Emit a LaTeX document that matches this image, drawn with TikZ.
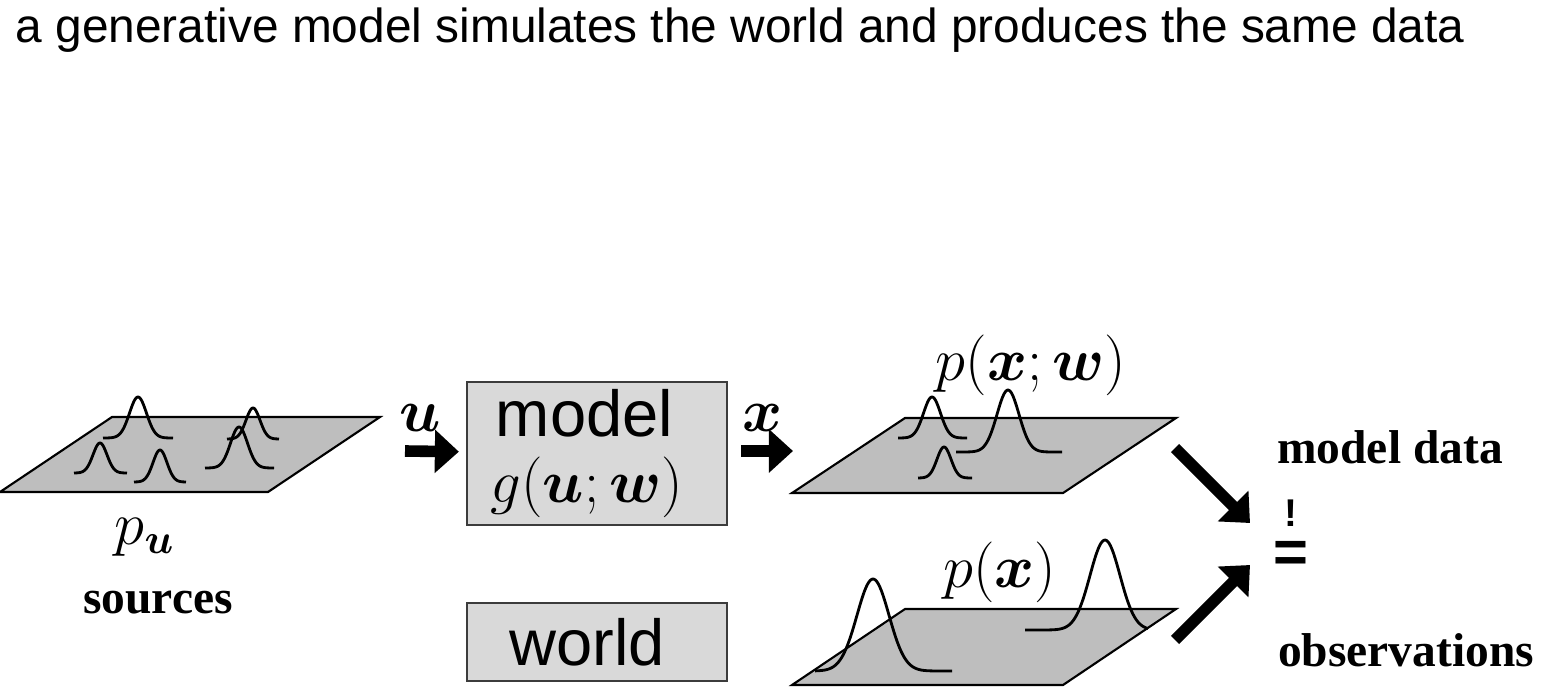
\documentclass[tikz,border=0pt]{standalone}
\usepackage{amsmath}
\usepackage{amssymb}
\usepackage{fontspec}
\setmainfont{Liberation Serif}
\setsansfont{Liberation Sans}
\usepackage{tikz}
\usetikzlibrary{arrows.meta,positioning,calc}
\definecolor{gmplane}{HTML}{BEBEBE}
\definecolor{gmbox}{HTML}{D9D9D9}
\definecolor{gmedge}{HTML}{3C3C3C}
\tikzset{
 plane/.style={fill=gmplane,draw=black,line width=0.6pt},
 block/.style={draw=gmedge,fill=gmbox,line width=0.6pt,minimum width=2.6cm,align=center,inner sep=0pt},
 fatarrow/.style={line width=3.3pt,-{Triangle[length=0.24cm,width=0.42cm]}},
 curve/.style={line width=0.8pt,line join=round},
 lbl/.style={font=\fontsize{13.5}{16}\selectfont\bfseries},
 mathlbl/.style={font=\fontsize{17}{20}\selectfont},
}
\newcommand{\bump}[6]{\draw[curve] plot[domain=#1:#2,samples=90,smooth]
 (\x,{#3-#4*exp(-0.5*((\x-#5)/#6)*((\x-#5)/#6))});}

\begin{document}
\begin{tikzpicture}[x=0.01cm,y=-0.01cm]
\useasboundingbox (0,0) rectangle (1549,688);
\node[anchor=base west,inner sep=0,font=\sffamily\fontsize{13.6}{16}\selectfont] (title) at (15,43)
 {a generative model simulates the world and produces the same data};

% the three planes
\draw[plane] (0,492) -- (268,492) -- (380,417) -- (112,417) -- cycle;
\draw[plane] (792,493) -- (1063,493) -- (1176,418) -- (905,418) -- cycle;
\draw[plane] (792,685) -- (1063,685) -- (1176,609) -- (905,609) -- cycle;

% sources
\bump{103}{173}{438}{41}{138}{8.5}
\bump{74}{127}{473}{30}{100}{7}
\bump{134}{186}{482}{32}{160}{7}
\bump{227}{279}{439}{31}{253}{7}
\bump{205}{274}{468}{41}{239}{8.5}
% model data
\bump{898}{967}{438}{41}{932}{8.5}
\bump{956}{1062}{452}{62}{1008}{11}
\bump{918}{972}{478}{31}{944}{7}
% observations
\bump{815}{952}{671}{92}{873}{16}
\bump{1025}{1148}{630}{90}{1105}{15}

\node[block,minimum height=1.43cm,font=\fontsize{17.5}{20}\selectfont] (model) at (597,453.5)
 {{\sffamily\fontsize{18.5}{20}\selectfont model}\hspace*{0.25cm}\\[-1pt]$g(\boldsymbol{u};\boldsymbol{w})$\hspace*{0.2cm}};
\node[block,minimum height=0.78cm,font=\sffamily\fontsize{18.5}{20}\selectfont] (world) at (597,642)
 {world\hspace*{0.2cm}};

\node[mathlbl,font=\fontsize{18}{20}\selectfont] (pu) at (145,537) {$p_{\boldsymbol{u}}$};
\node[lbl] (sources) at (158,603) {sources};
\node[mathlbl] (ulbl) at (420,418) {$\boldsymbol{u}$};
\node[mathlbl] (xlbl) at (763,418) {$\boldsymbol{x}$};
\node[mathlbl] (pxw) at (1031,365) {$p(\boldsymbol{x};\boldsymbol{w})$};
\node[mathlbl] (px) at (1000,572) {$p(\boldsymbol{x})$};
\node[lbl] (mdata) at (1390,447) {model data};
\node[lbl] (obs) at (1406,650) {observations};
\node[inner sep=0,font=\sffamily\bfseries\fontsize{11}{11}\selectfont] (bang) at (1291,513) {!};
\node[inner sep=0,font=\sffamily\bfseries\fontsize{17}{17}\selectfont] (eq) at (1291,557) {=};

\coordinate (utail) at (405,451);
\coordinate (xtip) at (793,451);
\coordinate (dtail) at (1175,448);
\coordinate (dtip) at (1250,523);
\coordinate (otail) at (1175,640);
\coordinate (otip) at (1250,565);
\draw[fatarrow,shorten >=0.07cm] (utail) -- (model);
\draw[fatarrow,shorten <=0.13cm] (model.east |- xtip) -- (xtip);
\draw[fatarrow] (dtail) -- (dtip);
\draw[fatarrow] (otail) -- (otip);
\end{tikzpicture}
\end{document}
